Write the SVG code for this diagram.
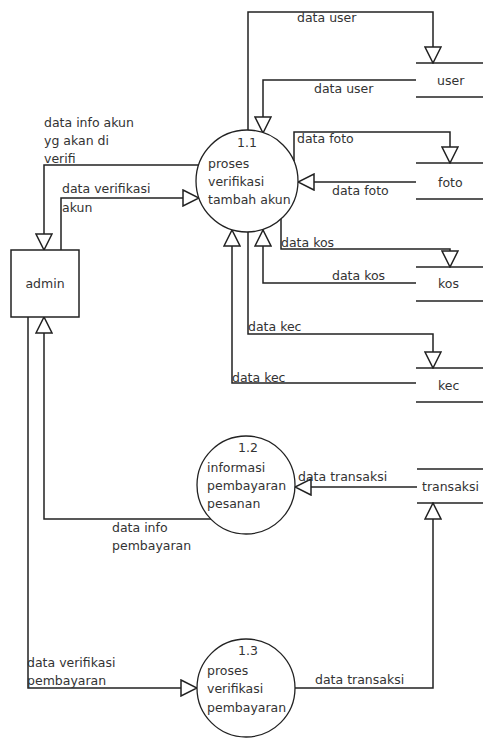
<svg xmlns="http://www.w3.org/2000/svg" width="483" height="738" viewBox="0 0 483 738">
<style>
text{font-family:"DejaVu Sans",Verdana,sans-serif;font-size:12.5px;fill:#333}
.ln{fill:none;stroke:#222;stroke-width:1.5}
.proc{fill:#fff;stroke:#222;stroke-width:1.3}
.ent{fill:#fff;stroke:#222;stroke-width:1.5}
.st{stroke:#222;stroke-width:1.5}
.mid{text-anchor:middle}
</style>
<defs>
<marker id="ah" viewBox="0 0 18 18" refX="17" refY="9" markerWidth="18" markerHeight="18" markerUnits="userSpaceOnUse" orient="auto">
<path d="M1,1 L17,9 L1,17 Z" fill="#fff" stroke="#222" stroke-width="1.5"/>
</marker>
</defs>
<rect width="483" height="738" fill="#fff"/>
<g id="connectors">
<path class="ln" d="M248,130 V12 H433 V63" marker-end="url(#ah)"/>
<path class="ln" d="M416,80 H263 V133" marker-end="url(#ah)"/>
<path class="ln" d="M294,161 V132 H450 V163" marker-end="url(#ah)"/>
<path class="ln" d="M416,182 H298" marker-end="url(#ah)"/>
<path class="ln" d="M281,219 V249 H450 V267" marker-end="url(#ah)"/>
<path class="ln" d="M416,283 H263 V230" marker-end="url(#ah)"/>
<path class="ln" d="M248,232 V334 H433 V368" marker-end="url(#ah)"/>
<path class="ln" d="M416,383 H232 V230" marker-end="url(#ah)"/>
<path class="ln" d="M199,165 H44 V250" marker-end="url(#ah)"/>
<path class="ln" d="M61,250 V198 H199" marker-end="url(#ah)"/>
<path class="ln" d="M211,519 H44 V317" marker-end="url(#ah)"/>
<path class="ln" d="M417,487 H295" marker-end="url(#ah)"/>
<path class="ln" d="M28,317 V688 H197" marker-end="url(#ah)"/>
<path class="ln" d="M295,688 H433 V503" marker-end="url(#ah)"/>
<text x="297" y="22">data user</text>
<text x="314" y="93">data user</text>
<text x="297" y="143">data foto</text>
<text x="332" y="195">data foto</text>
<text x="281" y="247">data kos</text>
<text x="332" y="280">data kos</text>
<text x="248" y="331">data kec</text>
<text x="232" y="382">data kec</text>
<text x="44" y="127">data info akun</text>
<text x="44" y="145">yg akan di</text>
<text x="44" y="163">verifi</text>
<text x="62" y="193">data verifikasi</text>
<text x="62" y="212">akun</text>
<text x="112" y="532">data info</text>
<text x="112" y="550">pembayaran</text>
<text x="298" y="481">data transaksi</text>
<text x="27" y="667">data verifikasi</text>
<text x="27" y="685">pembayaran</text>
<text x="315" y="684">data transaksi</text>
</g>
<g id="admin">
<rect class="ent" x="11" y="250" width="68" height="67"/>
<text class="mid" x="45" y="288">admin</text>
</g>
<g id="p1_1">
<circle class="proc" cx="247" cy="181" r="51"/>
<text class="mid" x="247" y="147">1.1</text>
<text x="208" y="168">proses</text>
<text x="208" y="186">verifikasi</text>
<text x="208" y="204">tambah akun</text>
</g>
<g id="p1_2">
<circle class="proc" cx="246" cy="485" r="49"/>
<text class="mid" x="248" y="452">1.2</text>
<text x="207" y="472">informasi</text>
<text x="207" y="490">pembayaran</text>
<text x="207" y="508">pesanan</text>
</g>
<g id="p1_3">
<circle class="proc" cx="246" cy="688" r="49"/>
<text class="mid" x="248" y="655">1.3</text>
<text x="207" y="675">proses</text>
<text x="207" y="693">verifikasi</text>
<text x="207" y="712">pembayaran</text>
</g>
<g id="user">
<line class="st" x1="416" y1="63" x2="483" y2="63"/>
<line class="st" x1="416" y1="97" x2="483" y2="97"/>
<text x="437" y="85">user</text>
</g>
<g id="foto">
<line class="st" x1="416" y1="163" x2="483" y2="163"/>
<line class="st" x1="416" y1="199" x2="483" y2="199"/>
<text x="438" y="187">foto</text>
</g>
<g id="kos">
<line class="st" x1="416" y1="267" x2="483" y2="267"/>
<line class="st" x1="416" y1="301" x2="483" y2="301"/>
<text x="438" y="288">kos</text>
</g>
<g id="kec">
<line class="st" x1="416" y1="368" x2="483" y2="368"/>
<line class="st" x1="416" y1="402" x2="483" y2="402"/>
<text x="438" y="390">kec</text>
</g>
<g id="transaksi">
<line class="st" x1="417" y1="469" x2="483" y2="469"/>
<line class="st" x1="417" y1="503" x2="483" y2="503"/>
<text x="422" y="491">transaksi</text>
</g>
</svg>
